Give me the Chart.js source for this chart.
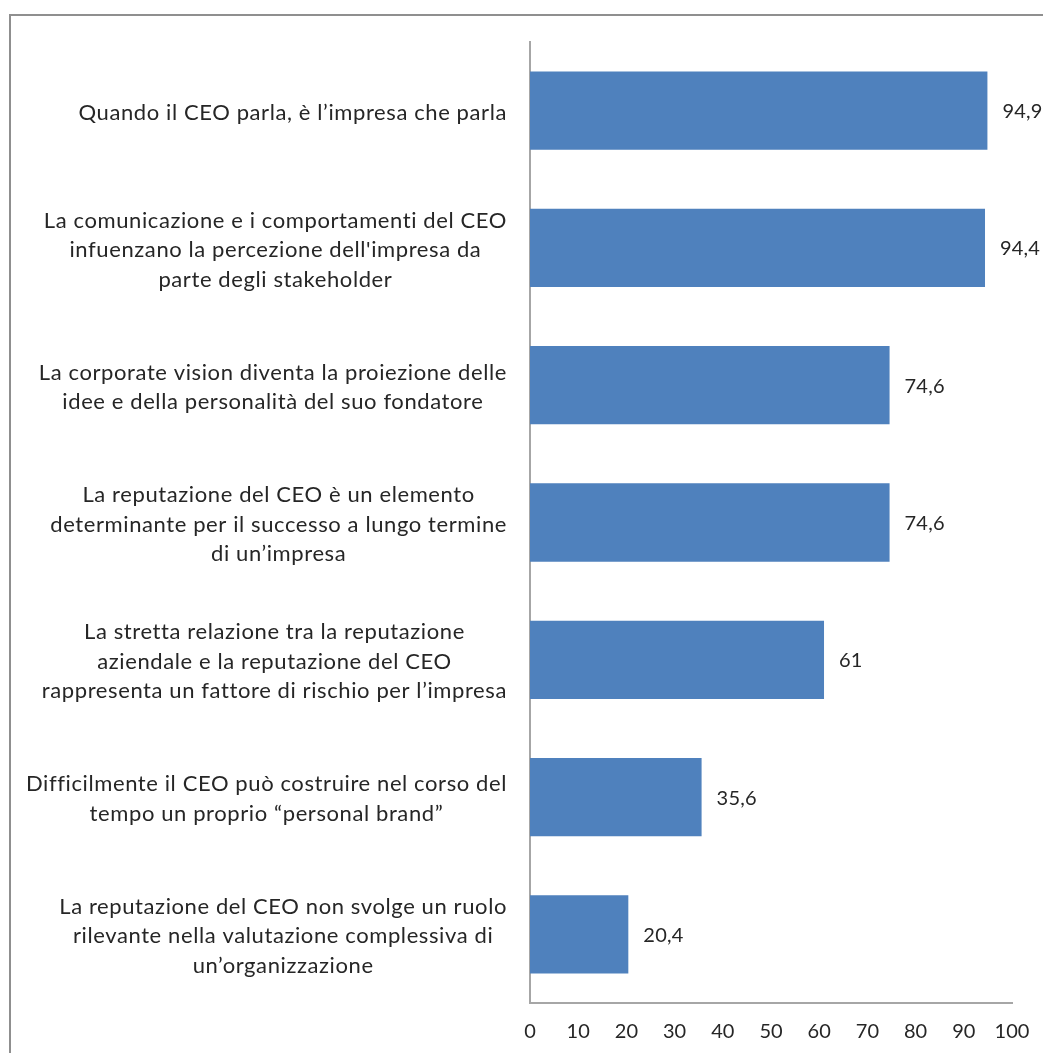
<!DOCTYPE html>
<html>
<head>
<meta charset="utf-8">
<script src="https://cdn.jsdelivr.net/npm/chart.js@4/dist/chart.umd.min.js"></script>
<style>
  html, body { margin: 0; padding: 0; background: #ffffff; }
  #wrap { position: relative; width: 1043px; height: 1053px; overflow: hidden; }
  #frame { position: absolute; left: 9px; top: 14px; width: 1100px; height: 1100px;
           border-left: 2px solid #8f8f8f; border-top: 2px solid #8f8f8f; box-sizing: border-box; }
  #chart { position: absolute; left: 0; top: 0; }
</style>
</head>
<body>
<div id="wrap">
  <div id="frame"></div>
  <canvas id="chart" width="1043" height="1053"></canvas>
</div>
<script>
// Statements about the CEO and corporate reputation (share of agreement, %)
const statements = [
  ["Quando il CEO parla, è l’impresa che parla"],
  ["La comunicazione e i comportamenti del CEO", "infuenzano la percezione dell'impresa da", "parte degli stakeholder"],
  ["La corporate vision diventa la proiezione delle", "idee e della personalità del suo fondatore"],
  ["La reputazione del CEO è un elemento", "determinante per il successo a lungo termine", "di un’impresa"],
  ["La stretta relazione tra la reputazione", "aziendale e la reputazione del CEO", "rappresenta un fattore di rischio per l’impresa"],
  ["Difficilmente il CEO può costruire nel corso del", "tempo un proprio “personal brand”"],
  ["La reputazione del CEO non svolge un ruolo", "rilevante nella valutazione complessiva di", "un’organizzazione"]
];
const shares = [94.9, 94.4, 74.6, 74.6, 61, 35.6, 20.4];
const axisTicks = [0, 10, 20, 30, 40, 50, 60, 70, 80, 90, 100];

const FONT = "Lato, 'Open Sans', sans-serif";
const TEXT = "#262626";
const AXIS = "#a6a6a6";

const fmt = v => String(v).replace(".", ",");

// Multi-line category labels: each block right-aligned next to the axis, lines centred inside it
const categoryLabels = {
  id: "categoryLabels",
  afterDraw(chart) {
    const { ctx } = chart;
    const y = chart.scales.y;
    const right = chart.chartArea.left - 23;
    const lh = 29.5;
    ctx.save();
    ctx.font = "22px " + FONT;
    ctx.letterSpacing = "0.6px";
    ctx.fillStyle = TEXT;
    ctx.textAlign = "center";
    ctx.textBaseline = "middle";
    statements.forEach((lines, i) => {
      const cy = y.getPixelForValue(i) + 2;
      const w = Math.max(...lines.map(l => ctx.measureText(l).width));
      const cx = right - w / 2;
      const top = cy - (lines.length - 1) * lh / 2;
      lines.forEach((l, k) => ctx.fillText(l, cx, top + k * lh));
    });
    ctx.restore();
  }
};

// Value written just past the end of each bar
const valueLabels = {
  id: "valueLabels",
  afterDatasetsDraw(chart) {
    const { ctx } = chart;
    const meta = chart.getDatasetMeta(0);
    ctx.save();
    ctx.font = "20px " + FONT;
    ctx.letterSpacing = "0.2px";
    ctx.fillStyle = TEXT;
    ctx.textAlign = "left";
    ctx.textBaseline = "middle";
    meta.data.forEach((bar, i) => {
      ctx.fillText(fmt(shares[i]), bar.x + 15, bar.y + 1);
    });
    ctx.restore();
  }
};

new Chart(document.getElementById("chart"), {
  type: "bar",
  data: {
    labels: statements.map(s => s.join(" ")),
    datasets: [{
      data: shares,
      backgroundColor: "#4f81bd",
      borderWidth: 0,
      categoryPercentage: 1,
      barPercentage: 0.57
    }]
  },
  options: {
    indexAxis: "y",
    responsive: false,
    animation: false,
    events: [],
    layout: { padding: { top: 42, right: 31, bottom: 0, left: 0 } },
    plugins: { legend: { display: false }, tooltip: { enabled: false } },
    scales: {
      x: {
        min: 0, max: 100,
        afterBuildTicks: s => { s.ticks = axisTicks.map(v => ({ value: v })); },
        afterFit: s => { s.height = 50; s.paddingLeft = 0; s.paddingRight = 0; },
        grid: { display: false, drawTicks: false },
        border: { display: true, color: AXIS, width: 2 },
        ticks: { color: TEXT, font: { family: FONT, size: 20 }, padding: 17, maxRotation: 0 }
      },
      y: {
        afterFit: s => { s.width = 530; },
        grid: { display: false, drawTicks: false },
        border: { display: true, color: AXIS, width: 2 },
        ticks: { display: false }
      }
    }
  },
  plugins: [categoryLabels, valueLabels]
});
</script>
</body>
</html>
